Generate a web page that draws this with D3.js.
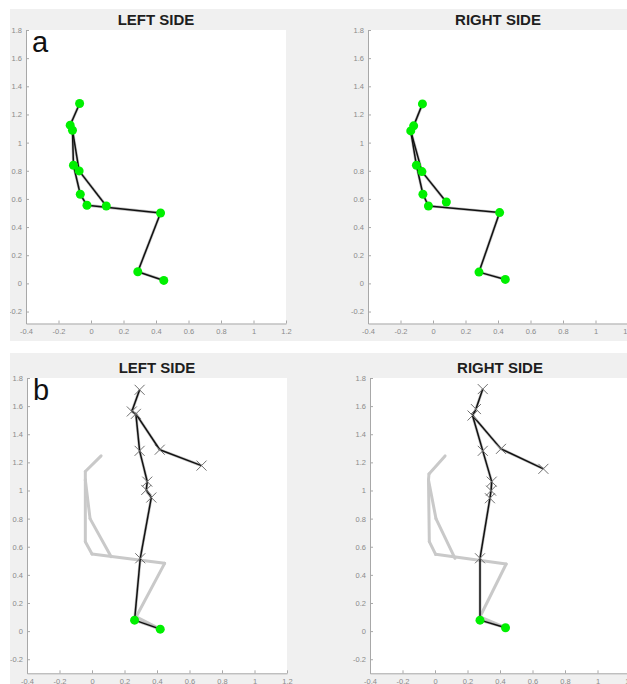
<!DOCTYPE html>
<html>
<head>
<meta charset="utf-8">
<script src="https://d3js.org/d3.v7.min.js"></script>
<title>Left side / right side poses</title>
<style>
  body { margin: 0; background: #fff; }
  svg { display: block; font-family: "Liberation Sans", Arial, sans-serif; }
  .tick text { fill: #8a8a8a; font-size: 7.5px; }
  .domain, .tick line { stroke: #a8a8a8; }
</style>
</head>
<body>
<div id="chart"></div>
<script>
// tick values shared by all four axes
const xTicks = [-0.4, -0.2, 0, 0.2, 0.4, 0.6, 0.8, 1, 1.2];
const yTicks = [-0.2, 0, 0.2, 0.4, 0.6, 0.8, 1, 1.2, 1.4, 1.6, 1.8];

// (a) pose: head, neck, shoulder, chest, elbow, waist, hip, wrist, knee, ankle, toe
const leftAX  = [-0.070, -0.128, -0.114, -0.108, -0.073, -0.066, -0.025, 0.094, 0.428, 0.288, 0.448];
const leftAY  = [1.278, 1.124, 1.088, 0.839, 0.799, 0.633, 0.555, 0.550, 0.500, 0.083, 0.021];
const rightAX = [-0.065, -0.119, -0.137, -0.102, -0.068, -0.062, -0.028, 0.082, 0.410, 0.283, 0.445];
const rightAY = [1.275, 1.119, 1.083, 0.839, 0.794, 0.633, 0.550, 0.578, 0.503, 0.080, 0.028];
const edgesA = [[0,1],[1,2],[2,3],[2,4],[3,5],[5,6],[6,8],[4,7],[8,9],[9,10]];

// (b) pose: head, neck, shoulder, chest, elbow, wrist, waist, pelvis, hip, knee, ankle, toe
const leftBX  = [0.293, 0.245, 0.270, 0.293, 0.417, 0.674, 0.340, 0.334, 0.365, 0.297, 0.262, 0.420];
const leftBY  = [1.716, 1.562, 1.545, 1.282, 1.290, 1.177, 1.063, 1.004, 0.950, 0.518, 0.078, 0.014];
const rightBX = [0.294, 0.252, 0.231, 0.294, 0.406, 0.667, 0.349, 0.345, 0.338, 0.277, 0.277, 0.434];
const rightBY = [1.721, 1.579, 1.533, 1.282, 1.296, 1.154, 1.063, 0.999, 0.945, 0.518, 0.078, 0.024];
const edgesB = [[0,1],[1,2],[2,3],[3,6],[6,7],[7,8],[8,9],[9,10],[10,11],[2,4],[4,5]];
const crossB = [0,1,2,3,4,5,6,7,8,9];
const greenB = [10,11];

// grey reference pose drawn behind (b): head, neck, shoulder, elbow, waist, hip, wrist, knee, ankle, toe
const shadowLX = [0.056, -0.041, -0.041, -0.012, -0.041, 0.000, 0.117, 0.447, 0.272, 0.420];
const shadowLY = [1.246, 1.135, 1.075, 0.800, 0.636, 0.548, 0.530, 0.482, 0.102, 0.014];
const shadowRX = [0.062, -0.037, -0.040, 0.006, -0.035, 0.004, 0.123, 0.438, 0.277, 0.434];
const shadowRY = [1.246, 1.118, 1.075, 0.800, 0.636, 0.546, 0.518, 0.477, 0.102, 0.024];
const edgesS = [[0,1],[1,2],[2,4],[4,5],[5,7],[7,8],[8,9],[2,3],[3,6]];

const W = 627, H = 684;
const svg = d3.select("#chart").append("svg").attr("width", W).attr("height", H);

const rows = [
  {y0: 9,   y1: 341, label: "a"},
  {y0: 353, y1: 684, label: "b"}
];

rows.forEach((r, i) => {
  svg.append("clipPath").attr("id", "row" + i)
    .append("rect").attr("x", 10).attr("y", r.y0).attr("width", W - 10).attr("height", r.y1 - r.y0);
  r.g = svg.append("g").attr("clip-path", `url(#row${i})`);
  r.g.append("rect").attr("x", 10).attr("y", r.y0).attr("width", W - 10).attr("height", r.y1 - r.y0)
    .attr("fill", "#f0f0f0");
});

const panels = [
  {row: 0, title: "LEFT SIDE",  x0: 26,  x1: 286, y0: 30,  y1: 323.5, yMin: -0.285,
   px: leftAX, py: leftAY, edges: edgesA, green: d3.range(11), tag: "a"},
  {row: 0, title: "RIGHT SIDE", x0: 368, x1: 628, y0: 30,  y1: 323.5, yMin: -0.285,
   px: rightAX, py: rightAY, edges: edgesA, green: d3.range(11)},
  {row: 1, title: "LEFT SIDE",  x0: 27,  x1: 287, y0: 378, y1: 673.3, yMin: -0.3,
   px: leftBX, py: leftBY, edges: edgesB, green: greenB, cross: crossB,
   sx: shadowLX, sy: shadowLY, tag: "b"},
  {row: 1, title: "RIGHT SIDE", x0: 370, x1: 630, y0: 378, y1: 673.3, yMin: -0.3,
   px: rightBX, py: rightBY, edges: edgesB, green: greenB, cross: crossB,
   sx: shadowRX, sy: shadowRY}
];

const fmt = d => String(Math.round(d * 10) / 10);

panels.forEach(p => {
  const g = rows[p.row].g;
  const x = d3.scaleLinear().domain([-0.4, 1.2]).range([p.x0, p.x1]);
  const y = d3.scaleLinear().domain([p.yMin, 1.8]).range([p.y1, p.y0]);

  g.append("rect").attr("x", p.x0).attr("y", p.y0)
    .attr("width", p.x1 - p.x0).attr("height", p.y1 - p.y0).attr("fill", "#fff");

  g.append("g").attr("transform", `translate(${p.x0},0)`)
    .call(d3.axisLeft(y).tickValues(yTicks).tickFormat(fmt).tickSizeInner(-3).tickSizeOuter(0).tickPadding(4))
    .call(a => a.selectAll("text").style("font-size", "7.5px"));
  g.append("g").attr("transform", `translate(0,${p.y1})`)
    .call(d3.axisBottom(x).tickValues(xTicks).tickFormat(fmt).tickSizeInner(-3).tickSizeOuter(0).tickPadding(5))
    .call(a => a.selectAll("text").style("font-size", "7.5px"));

  g.append("text").attr("x", (p.x0 + p.x1) / 2).attr("y", p.y0 - 5)
    .attr("text-anchor", "middle").attr("font-weight", "bold").attr("font-size", 15)
    .attr("fill", "#1e1e1e").text(p.title);

  if (p.tag) {
    g.append("text").attr("x", p.x0 + 6).attr("y", p.y0 + 22)
      .attr("font-size", 29).attr("fill", "#111").text(p.tag);
  }

  // grey reference skeleton
  if (p.sx) {
    g.append("g").selectAll("line").data(edgesS).join("line")
      .attr("x1", e => x(p.sx[e[0]])).attr("y1", e => y(p.sy[e[0]]))
      .attr("x2", e => x(p.sx[e[1]])).attr("y2", e => y(p.sy[e[1]]))
      .attr("stroke", "#c9c9c9").attr("stroke-width", 3).attr("stroke-linecap", "round");
  }

  // skeleton segments
  const seg = g.append("g");
  seg.selectAll("line.halo").data(p.edges).join("line").attr("class", "halo")
    .attr("x1", e => x(p.px[e[0]])).attr("y1", e => y(p.py[e[0]]))
    .attr("x2", e => x(p.px[e[1]])).attr("y2", e => y(p.py[e[1]]))
    .attr("stroke", "#9a9a9a").attr("stroke-width", 2.8).attr("stroke-opacity", 0.6);
  seg.selectAll("line.bone").data(p.edges).join("line").attr("class", "bone")
    .attr("x1", e => x(p.px[e[0]])).attr("y1", e => y(p.py[e[0]]))
    .attr("x2", e => x(p.px[e[1]])).attr("y2", e => y(p.py[e[1]]))
    .attr("stroke", "#111").attr("stroke-width", 1.5);

  if (p.cross) {
    const s = 5;
    g.append("g").selectAll("path").data(p.cross).join("path")
      .attr("d", i => {
        const cx = x(p.px[i]), cy = y(p.py[i]);
        return `M${cx - s},${cy - s}L${cx + s},${cy + s}M${cx - s},${cy + s}L${cx + s},${cy - s}`;
      })
      .attr("stroke", "#707070").attr("stroke-width", 1).attr("fill", "none");
  }

  g.append("g").selectAll("circle").data(p.green).join("circle")
    .attr("cx", i => x(p.px[i])).attr("cy", i => y(p.py[i]))
    .attr("r", 4.5).attr("fill", "#00f000");
});
</script>
</body>
</html>
